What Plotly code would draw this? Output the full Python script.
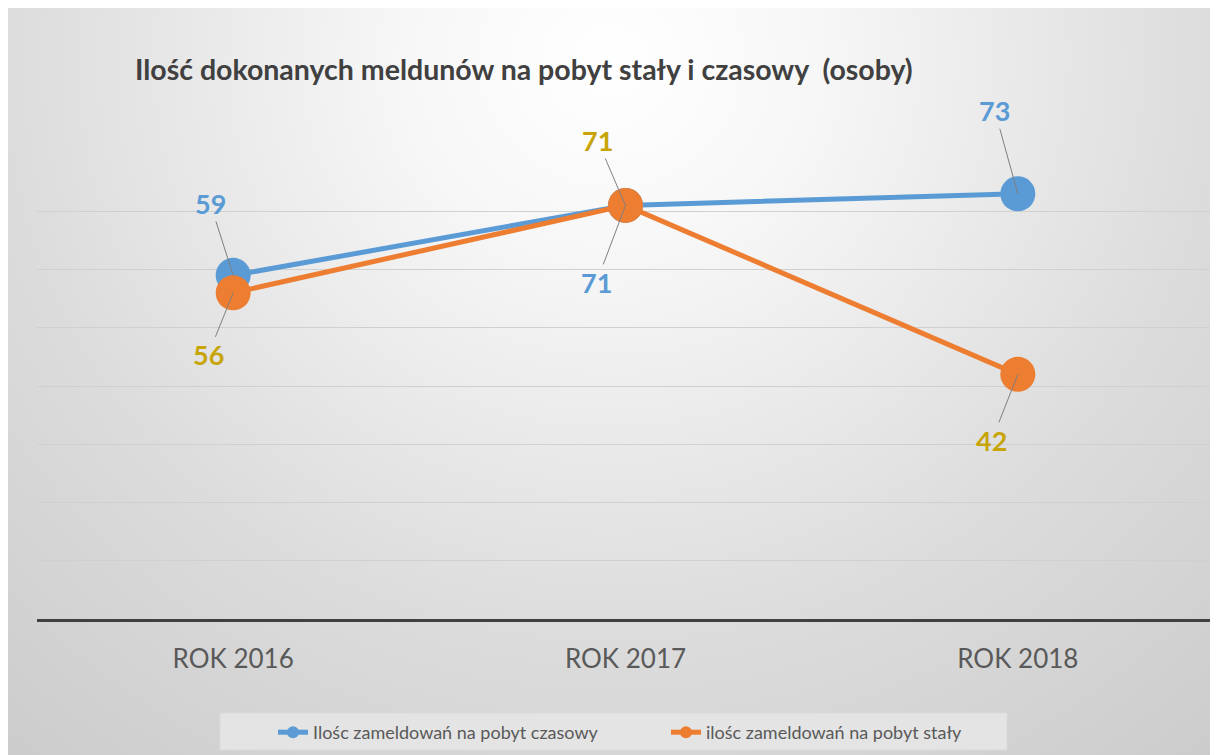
import plotly.graph_objects as go

# ---- data ----
categories = ["ROK 2016", "ROK 2017", "ROK 2018"]
temporary_values = [59, 71, 73]   # Ilośc zameldowań na pobyt czasowy
permanent_values = [56, 71, 42]   # ilośc zameldowań na pobyt stały
series_names = ["Ilośc zameldowań na pobyt czasowy", "ilośc zameldowań na pobyt stały"]
title_text = "Ilość dokonanych meldunów na pobyt stały i czasowy\u00a0\u00a0(osoby)"

# ---- style ----
W, H = 1218, 755
BLUE = "#5B9BD5"
ORANGE = "#ED7D31"
BLUE_LABEL = "#5B9BD5"
GOLD_LABEL = "#C7A508"
FONT = "Lato, 'Open Sans', sans-serif"

# label offsets (pixels) for the data labels with leader lines
temp_offsets = [(-23, -72), (-29, 77), (-23, -83)]
perm_offsets = [(-25, 62), (-28, -65), (-26, 66)]

fig = go.Figure()

# background radial gradient (decorative) on its own full-figure subplot
fig.add_trace(go.Scatter(
    x=[-0.33, 1.32, 1.32, -0.33, -0.33],
    y=[-0.34, -0.34, 2.20, 2.20, -0.34],
    mode="lines", fill="toself", line=dict(width=0),
    fillgradient=dict(type="radial",
                      colorscale=[[0, "#ffffff"], [0.2, "#f7f7f7"], [0.6, "#dcdcdc"], [1, "#c9c9c9"]]),
    hoverinfo="skip", showlegend=False, xaxis="x", yaxis="y",
))

fig.add_trace(go.Scatter(
    x=categories, y=temporary_values, name=series_names[0],
    mode="lines+markers",
    line=dict(color=BLUE, width=5),
    marker=dict(color=BLUE, size=35),
    xaxis="x2", yaxis="y2",
))
fig.add_trace(go.Scatter(
    x=categories, y=permanent_values, name=series_names[1],
    mode="lines+markers",
    line=dict(color=ORANGE, width=5),
    marker=dict(color=ORANGE, size=35),
    xaxis="x2", yaxis="y2",
))

annotations = []
for vals, offs, col in [(temporary_values, temp_offsets, BLUE_LABEL),
                        (permanent_values, perm_offsets, GOLD_LABEL)]:
    for cat, v, (ax, ay) in zip(categories, vals, offs):
        annotations.append(dict(
            x=cat, y=v, xref="x2", yref="y2", text=f"<b>{v}</b>",
            showarrow=True, ax=ax, ay=ay, axref="pixel", ayref="pixel",
            arrowhead=0, arrowwidth=1, arrowcolor="#7f7f7f", standoff=0,
            font=dict(family=FONT, size=27, color=col),
        ))

fig.update_layout(
    width=W, height=H,
    margin=dict(l=0, r=0, t=0, b=0, autoexpand=False),
    paper_bgcolor="white",
    plot_bgcolor="rgba(0,0,0,0)",
    font=dict(family=FONT),
    title=dict(text=f"<b>{title_text}</b>", xref="paper", yref="paper",
               x=127 / W, xanchor="left", y=1 - 62 / H, yanchor="middle",
               font=dict(family=FONT, size=28.5, color="#404040")),
    xaxis=dict(domain=[0, 1], range=[0, 1], visible=False, fixedrange=True),
    yaxis=dict(domain=[0, 1], range=[0, 1], visible=False, fixedrange=True),
    xaxis2=dict(domain=[29 / W, 1206 / W], anchor="y2", type="category",
                range=[-0.5, 2.5], showgrid=False, zeroline=False,
                showline=True, linecolor="#404040", linewidth=3,
                ticks="outside", ticklen=15, tickcolor="rgba(0,0,0,0)",
                tickfont=dict(family=FONT, size=26, color="#595959")),
    yaxis2=dict(domain=[144 / H, 610 / H], anchor="x2", range=[0, 80],
                dtick=10, showgrid=True, gridcolor="#d0d0d0", gridwidth=1,
                zeroline=False, showticklabels=False, ticks=""),
    showlegend=True,
    legend=dict(orientation="h", xref="paper", yref="paper",
                x=265 / W, xanchor="left", y=1 - 706 / H, yanchor="top",
                bgcolor="rgba(0,0,0,0)", borderwidth=0, itemsizing="constant",
                entrywidth=348, entrywidthmode="pixels",
                font=dict(family=FONT, size=18, color="#595959")),
    shapes=[dict(type="rect", xref="paper", yref="paper",
                 x0=212 / W, x1=999 / W, y0=1 - 742 / H, y1=1 - 705 / H,
                 fillcolor="#e4e4e4", line=dict(width=1, color="#dadada"),
                 layer="above")],
    annotations=annotations,
)

fig.write_html("out.html")
